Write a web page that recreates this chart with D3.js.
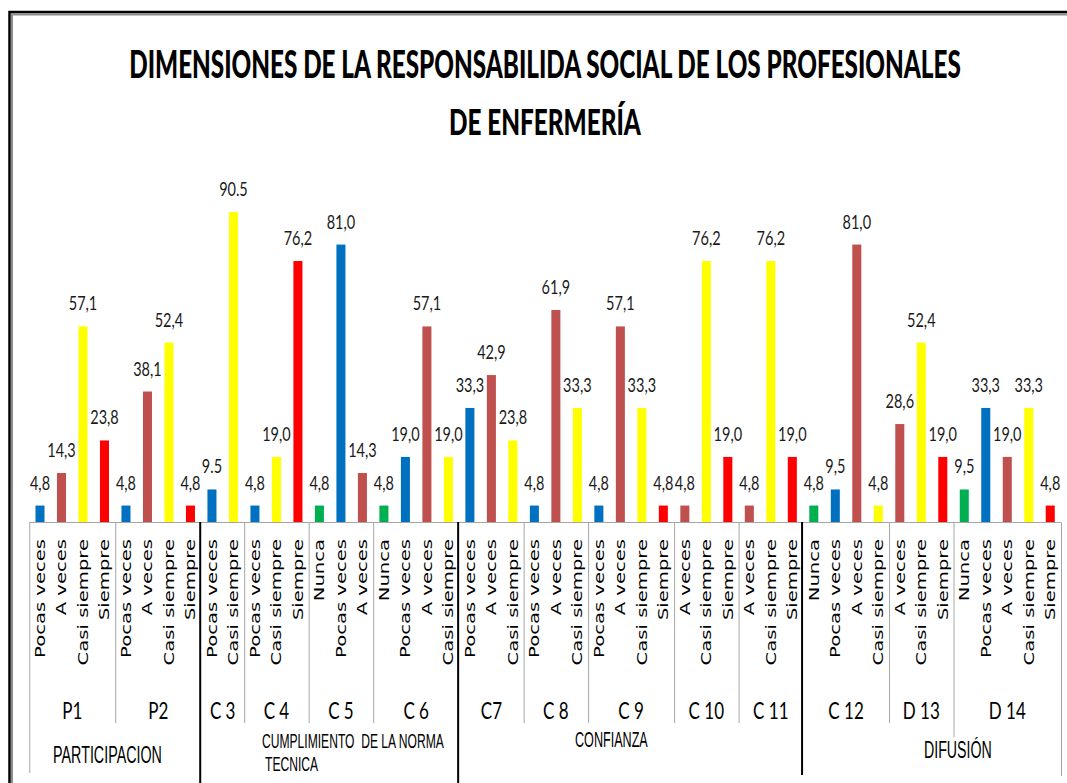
<!DOCTYPE html>
<html>
<head>
<meta charset="utf-8">
<script src="https://cdn.jsdelivr.net/npm/d3@7"></script>
<style>
  body { margin: 0; background: #fff; }
  svg text { white-space: pre; }
</style>
</head>
<body>
<svg id="chart" width="1067" height="783"></svg>
<script>
// data
const titleLines = ["DIMENSIONES DE LA RESPONSABILIDA SOCIAL DE LOS PROFESIONALES", "DE ENFERMERÍA"];

const answerKinds = ["Nunca", "Pocas veces", "A veces", "Casi siempre", "Siempre"];
const answerColors = ["#00b050", "#0070c0", "#c0504d", "#ffff00", "#ff0000"];

const groupLabels = ["P1", "P2", "C 3", "C 4", "C 5", "C 6", "C7", "C 8", "C 9", "C 10", "C 11", "C 12", "D 13", "D 14"];

const groupAnswers = [
  ["Pocas veces", "A veces", "Casi siempre", "Siempre"],
  ["Pocas veces", "A veces", "Casi siempre", "Siempre"],
  ["Pocas veces", "Casi siempre"],
  ["Pocas veces", "Casi siempre", "Siempre"],
  ["Nunca", "Pocas veces", "A veces"],
  ["Nunca", "Pocas veces", "A veces", "Casi siempre"],
  ["Pocas veces", "A veces", "Casi siempre"],
  ["Pocas veces", "A veces", "Casi siempre"],
  ["Pocas veces", "A veces", "Casi siempre", "Siempre"],
  ["A veces", "Casi siempre", "Siempre"],
  ["A veces", "Casi siempre", "Siempre"],
  ["Nunca", "Pocas veces", "A veces", "Casi siempre"],
  ["A veces", "Casi siempre", "Siempre"],
  ["Nunca", "Pocas veces", "A veces", "Casi siempre", "Siempre"]
];

const groupValues = [
  [4.8, 14.3, 57.1, 23.8],
  [4.8, 38.1, 52.4, 4.8],
  [9.5, 90.5],
  [4.8, 19.0, 76.2],
  [4.8, 81.0, 14.3],
  [4.8, 19.0, 57.1, 19.0],
  [33.3, 42.9, 23.8],
  [4.8, 61.9, 33.3],
  [4.8, 57.1, 33.3, 4.8],
  [4.8, 76.2, 19.0],
  [4.8, 76.2, 19.0],
  [4.8, 9.5, 81.0, 4.8],
  [28.6, 52.4, 19.0],
  [9.5, 33.3, 19.0, 33.3, 4.8]
];

// groups whose label uses a dot instead of a comma
const dotGroups = ["C 3"];

const dimensionNames = ["PARTICIPACION", "CUMPLIMIENTO  DE LA NORMA", "CONFIANZA", "DIFUSIÓN"];
const dimensionSizes = [2, 4, 5, 3];

// flatten into bars
const bars = [];
groupAnswers.forEach((answers, g) => {
  answers.forEach((a, k) => {
    bars.push({ group: g, answer: a, value: groupValues[g][k] });
  });
});

const svg = d3.select("#chart");

const x = d3.scaleBand()
  .domain(d3.range(bars.length))
  .range([29.25, 1061])
  .paddingInner(0.58)
  .paddingOuter(0.29);

const y = d3.scaleLinear().domain([0, 100]).range([522, 179.5]);

const color = d3.scaleOrdinal().domain(answerKinds).range(answerColors);

// x position of the edge before bar i
function edge(i) {
  return x.range()[0] + i * x.step();
}

// bar index where each group starts
const groupStart = [];
let acc = 0;
groupAnswers.forEach(a => { groupStart.push(acc); acc += a.length; });
groupStart.push(acc);

// outer frame
svg.append("path")
  .attr("d", "M12,783 V14.5 H1067")
  .attr("fill", "none")
  .attr("stroke", "#8c8c8c")
  .attr("stroke-width", 2);
svg.append("path")
  .attr("d", "M9.5,783 V12 H1067")
  .attr("fill", "none")
  .attr("stroke", "#000")
  .attr("stroke-width", 2.5);

// title, squeezed to the width it has in the picture
const titleWidth = [832, 192];
svg.selectAll(".title")
  .data(titleLines)
  .join("text")
  .attr("class", "title")
  .attr("text-anchor", "middle")
  .style("font-family", "Lato, 'Open Sans', sans-serif")
  .style("font-weight", 900)
  .style("font-size", "37px")
  .style("fill", "#000")
  .text(d => d)
  .attr("transform", function(d, i) {
    const w = this.getComputedTextLength();
    return "translate(545," + (78 + i * 57) + ") scale(" + (titleWidth[i] / w) + ",1)";
  });

// bars
svg.selectAll(".bar")
  .data(bars)
  .join("rect")
  .attr("class", "bar")
  .attr("x", (d, i) => x(i))
  .attr("width", x.bandwidth())
  .attr("y", d => y(d.value))
  .attr("height", d => y(0) - y(d.value))
  .attr("fill", d => color(d.answer));

// value labels
svg.selectAll(".val")
  .data(bars)
  .join("text")
  .attr("class", "val")
  .attr("transform", (d, i) => "translate(" + (x(i) + x.bandwidth() / 2) + "," + (y(d.value) - 16) + ") scale(1,1.35)")
  .attr("text-anchor", "middle")
  .style("font-family", "Lato, sans-serif")
  .style("font-size", "14.5px")
  .style("fill", "#1a1a1a")
  .text(d => {
    const s = d3.format(".1f")(d.value);
    return dotGroups.includes(groupLabels[d.group]) ? s : s.replace(".", ",");
  });

// axis line
svg.append("line")
  .attr("x1", edge(0)).attr("x2", edge(bars.length))
  .attr("y1", 522.5).attr("y2", 522.5)
  .attr("stroke", "#a6a6a6")
  .attr("stroke-width", 1);

// category labels (rotated)
svg.selectAll(".cat")
  .data(bars)
  .join("text")
  .attr("class", "cat")
  .attr("transform", (d, i) => "translate(" + (x(i) + x.bandwidth() / 2 + 5) + ",539) rotate(-90) scale(1.4,1)")
  .attr("text-anchor", "end")
  .style("font-family", "'DejaVu Sans', Verdana, sans-serif")
  .style("font-size", "14px")
  .style("fill", "#000")
  .text(d => d.answer);

// dimension boundaries in group terms
const dimEnds = [];
acc = 0;
dimensionSizes.forEach(s => { acc += s; dimEnds.push(acc); });

// group separators
const sepData = d3.range(1, groupLabels.length).filter(g => !dimEnds.includes(g));
svg.selectAll(".sep")
  .data(sepData)
  .join("line")
  .attr("class", "sep")
  .attr("x1", g => edge(groupStart[g]) + 0.5)
  .attr("x2", g => edge(groupStart[g]) + 0.5)
  .attr("y1", 522.5)
  .attr("y2", g => g === groupLabels.length - 1 ? 737 : 723)
  .attr("stroke", "#a6a6a6");

// outer left / right edges
svg.selectAll(".outer")
  .data([0, bars.length])
  .join("line")
  .attr("class", "outer")
  .attr("x1", i => edge(i) + 0.5)
  .attr("x2", i => edge(i) + 0.5)
  .attr("y1", 522.5)
  .attr("y2", i => i === 0 ? 773 : 776)
  .attr("stroke", "#a6a6a6");

// dimension separators (black)
const dimSepEnd = [783, 783, 775];
svg.selectAll(".dimsep")
  .data(dimEnds.slice(0, -1))
  .join("line")
  .attr("class", "dimsep")
  .attr("x1", g => edge(groupStart[g]) - 1)
  .attr("x2", g => edge(groupStart[g]) - 1)
  .attr("y1", 522)
  .attr("y2", (g, i) => dimSepEnd[i])
  .attr("stroke", "#000")
  .attr("stroke-width", 2);

// group labels
svg.selectAll(".grp")
  .data(groupLabels)
  .join("text")
  .attr("class", "grp")
  .attr("transform", (d, g) => "translate(" + ((edge(groupStart[g]) + edge(groupStart[g + 1])) / 2) + ",719) scale(1,1.4)")
  .attr("text-anchor", "middle")
  .style("font-family", "Lato, sans-serif")
  .style("font-size", "17px")
  .style("fill", "#000")
  .text(d => d);

// dimension labels
const dimLabelPos = [
  { x: 107.5, y: 763, size: 14.3, sy: 1.65, anchor: "middle" },
  { x: 262, y: 748, size: 12.1, sy: 1.6, anchor: "start" },
  { x: 575, y: 747, size: 12.6, sy: 1.75, anchor: "start" },
  { x: 924, y: 758, size: 14.2, sy: 1.65, anchor: "start" }
];
svg.selectAll(".dim")
  .data(dimensionNames)
  .join("text")
  .attr("class", "dim")
  .attr("transform", (d, i) => "translate(" + dimLabelPos[i].x + "," + dimLabelPos[i].y + ") scale(1," + dimLabelPos[i].sy + ")")
  .attr("text-anchor", (d, i) => dimLabelPos[i].anchor)
  .style("font-family", "'Liberation Sans', Arial, sans-serif")
  .style("font-size", (d, i) => dimLabelPos[i].size + "px")
  .style("fill", "#000")
  .text(d => d);

// second line of the long dimension name
svg.append("text")
  .attr("transform", "translate(265,771) scale(1,1.6)")
  .style("font-family", "'Liberation Sans', Arial, sans-serif")
  .style("font-size", "12.1px")
  .style("fill", "#000")
  .text("TECNICA");
</script>
</body>
</html>
